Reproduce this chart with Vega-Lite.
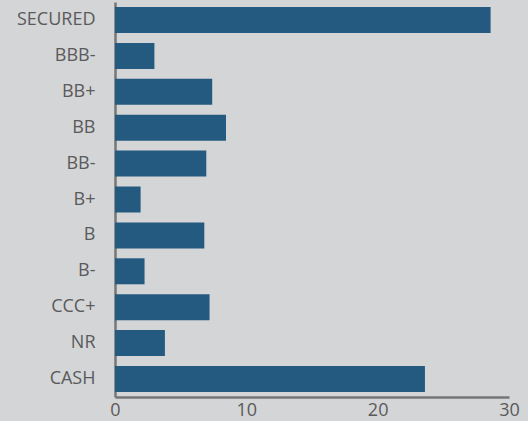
{
  "$schema": "https://vega.github.io/schema/vega-lite/v6.json",
  "autosize": "none",
  "width": 394,
  "height": 395,
  "padding": {"left": 115, "top": 2, "right": 19, "bottom": 24},
  "background": "#d4d5d7",
  "config": {
    "view": {"stroke": null},
    "axis": {"labelFont": "Open Sans", "labelColor": "#5a5a5a", "labelFontSize": 18, "grid": false, "ticks": false, "domainColor": "#767676", "domainWidth": 2.5, "title": null}
  },
  "data": {"values": [
    {"rating": "SECURED", "value": 28.6},
    {"rating": "BBB-", "value": 3.0},
    {"rating": "BB+", "value": 7.4},
    {"rating": "BB", "value": 8.45},
    {"rating": "BB-", "value": 6.95},
    {"rating": "B+", "value": 1.95},
    {"rating": "B", "value": 6.8},
    {"rating": "B-", "value": 2.25},
    {"rating": "CCC+", "value": 7.2},
    {"rating": "NR", "value": 3.8},
    {"rating": "CASH", "value": 23.6}
  ]},
  "mark": {"type": "bar", "color": "#245a80"},
  "encoding": {
    "y": {"field": "rating", "type": "nominal", "sort": null,
      "scale": {"paddingInner": 0.276, "paddingOuter": 0.14},
      "axis": {"labelPadding": 20}},
    "x": {"field": "value", "type": "quantitative",
      "scale": {"domain": [0, 30], "nice": false},
      "axis": {"values": [0, 10, 20, 30], "labelPadding": 4, "labelFlush": false}}
  }
}
